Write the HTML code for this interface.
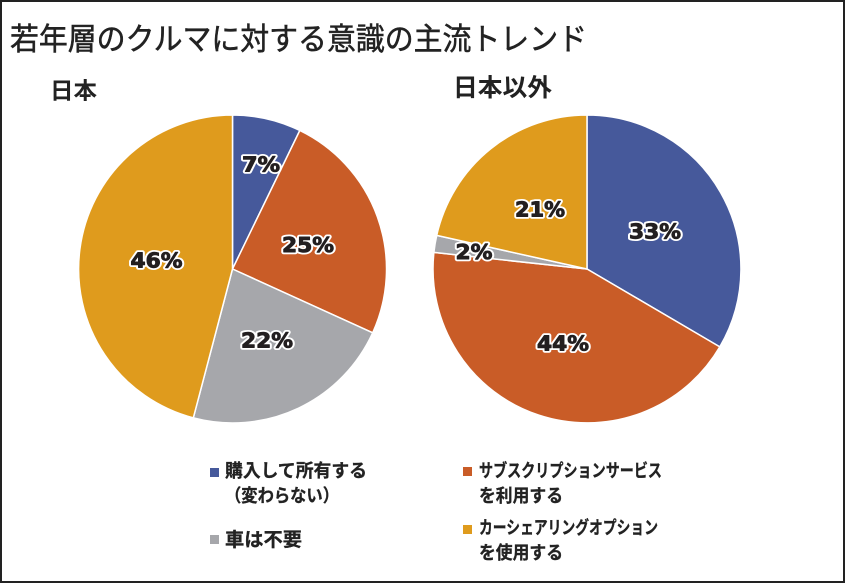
<!DOCTYPE html>
<html lang="ja">
<head>
<meta charset="utf-8">
<style>
  html, body { margin:0; padding:0; background:#fff; }
  body { width:845px; height:583px; overflow:hidden; }
  svg { display:block; }
  .jp { font-family: "Liberation Sans", "Noto Sans CJK JP", sans-serif; fill:#222; }
  .lbl { font-family: "DejaVu Sans", "Liberation Sans", sans-serif; font-weight:bold; font-size:20px; text-anchor:middle; stroke-linejoin:round; }
  .lo { fill:#fff; stroke:#fff; stroke-width:4.5px; }
  .lt { fill:#231f20; stroke:#231f20; stroke-width:0.9px; }
</style>
</head>
<body>
<svg width="845" height="583" viewBox="0 0 845 583" xmlns="http://www.w3.org/2000/svg">
  <rect x="0" y="0" width="845" height="583" fill="#fff"/>
  <rect x="1" y="1" width="843" height="581" fill="none" stroke="#222" stroke-width="2"/>

  <!-- Title -->
  <text class="jp" x="10" y="50" font-size="31" stroke="#222" stroke-width="0.5" textLength="577" lengthAdjust="spacingAndGlyphs">若年層のクルマに対する意識の主流トレンド</text>

  <!-- Sub titles -->
  <text class="jp" x="50" y="98.5" font-size="23" font-weight="bold" textLength="47" lengthAdjust="spacingAndGlyphs">日本</text>
  <text class="jp" x="453" y="96" font-size="24.5" font-weight="bold" textLength="99" lengthAdjust="spacingAndGlyphs">日本以外</text>

  <!-- Left pie: center (232.5,269) r=154 -->
  <g stroke="#fff" stroke-width="1.5" stroke-linejoin="round">
    <path d="M232.5,269 L232.5,115 A154,154 0 0 1 299.8,130.5 Z" fill="#46599b"/>
    <path d="M232.5,269 L299.8,130.5 A154,154 0 0 1 372.7,332.8 Z" fill="#c95c27"/>
    <path d="M232.5,269 L372.7,332.8 A154,154 0 0 1 193.3,417.9 Z" fill="#a6a7ab"/>
    <path d="M232.5,269 L193.3,417.9 A154,154 0 0 1 232.5,115 Z" fill="#df9b1d"/>
  </g>

  <!-- Right pie: center (587,269) r=154 -->
  <g stroke="#fff" stroke-width="1.5" stroke-linejoin="round">
    <path d="M587,269 L587,115 A154,154 0 0 1 719.8,346.9 Z" fill="#46599b"/>
    <path d="M587,269 L719.8,346.9 A154,154 0 0 1 433.9,252.4 Z" fill="#c95c27"/>
    <path d="M587,269 L433.9,252.4 A154,154 0 0 1 436.7,235.4 Z" fill="#a6a7ab"/>
    <path d="M587,269 L436.7,235.4 A154,154 0 0 1 587,115 Z" fill="#df9b1d"/>
  </g>

  <!-- Pie labels: outline layer -->
  <g class="lbl lo">
    <text x="261" y="171.5" textLength="38" lengthAdjust="spacingAndGlyphs">7%</text>
    <text x="308" y="252" textLength="52" lengthAdjust="spacingAndGlyphs">25%</text>
    <text x="267" y="347.5" textLength="52" lengthAdjust="spacingAndGlyphs">22%</text>
    <text x="156.5" y="267.5" textLength="52" lengthAdjust="spacingAndGlyphs">46%</text>
    <text x="540" y="216.5" textLength="50" lengthAdjust="spacingAndGlyphs">21%</text>
    <text x="655" y="238.5" textLength="52" lengthAdjust="spacingAndGlyphs">33%</text>
    <text x="474" y="259" textLength="37" lengthAdjust="spacingAndGlyphs">2%</text>
    <text x="563" y="350.5" textLength="52" lengthAdjust="spacingAndGlyphs">44%</text>
  </g>
  <!-- Pie labels: text layer -->
  <g class="lbl lt">
    <text x="261" y="171.5" textLength="38" lengthAdjust="spacingAndGlyphs">7%</text>
    <text x="308" y="252" textLength="52" lengthAdjust="spacingAndGlyphs">25%</text>
    <text x="267" y="347.5" textLength="52" lengthAdjust="spacingAndGlyphs">22%</text>
    <text x="156.5" y="267.5" textLength="52" lengthAdjust="spacingAndGlyphs">46%</text>
    <text x="540" y="216.5" textLength="50" lengthAdjust="spacingAndGlyphs">21%</text>
    <text x="655" y="238.5" textLength="52" lengthAdjust="spacingAndGlyphs">33%</text>
    <text x="474" y="259" textLength="37" lengthAdjust="spacingAndGlyphs">2%</text>
    <text x="563" y="350.5" textLength="52" lengthAdjust="spacingAndGlyphs">44%</text>
  </g>

  <!-- Legend -->
  <rect x="210" y="468" width="9" height="9" fill="#46599b"/>
  <text class="jp" x="225" y="477" font-size="18" font-weight="bold" stroke="#222" stroke-width="0.3" textLength="142" lengthAdjust="spacingAndGlyphs">購入して所有する</text>
  <text class="jp" x="225" y="502" font-size="18" font-weight="bold" stroke="#222" stroke-width="0.3" textLength="114" lengthAdjust="spacingAndGlyphs">（変わらない）</text>

  <rect x="210" y="535" width="9" height="9" fill="#a6a7ab"/>
  <text class="jp" x="225" y="546" font-size="19" font-weight="bold" stroke="#222" stroke-width="0.3" textLength="77" lengthAdjust="spacingAndGlyphs">車は不要</text>

  <rect x="463" y="467" width="9" height="9" fill="#c95c27"/>
  <text class="jp" x="479" y="477" font-size="18" font-weight="bold" stroke="#222" stroke-width="0.3" textLength="183" lengthAdjust="spacingAndGlyphs">サブスクリプションサービス</text>
  <text class="jp" x="479" y="502" font-size="18" font-weight="bold" stroke="#222" stroke-width="0.3" textLength="84" lengthAdjust="spacingAndGlyphs">を利用する</text>

  <rect x="463" y="525" width="9" height="9" fill="#df9b1d"/>
  <text class="jp" x="479" y="534" font-size="18" font-weight="bold" stroke="#222" stroke-width="0.3" textLength="179" lengthAdjust="spacingAndGlyphs">カーシェアリングオプション</text>
  <text class="jp" x="479" y="559" font-size="18" font-weight="bold" stroke="#222" stroke-width="0.3" textLength="84" lengthAdjust="spacingAndGlyphs">を使用する</text>
</svg>
</body>
</html>
